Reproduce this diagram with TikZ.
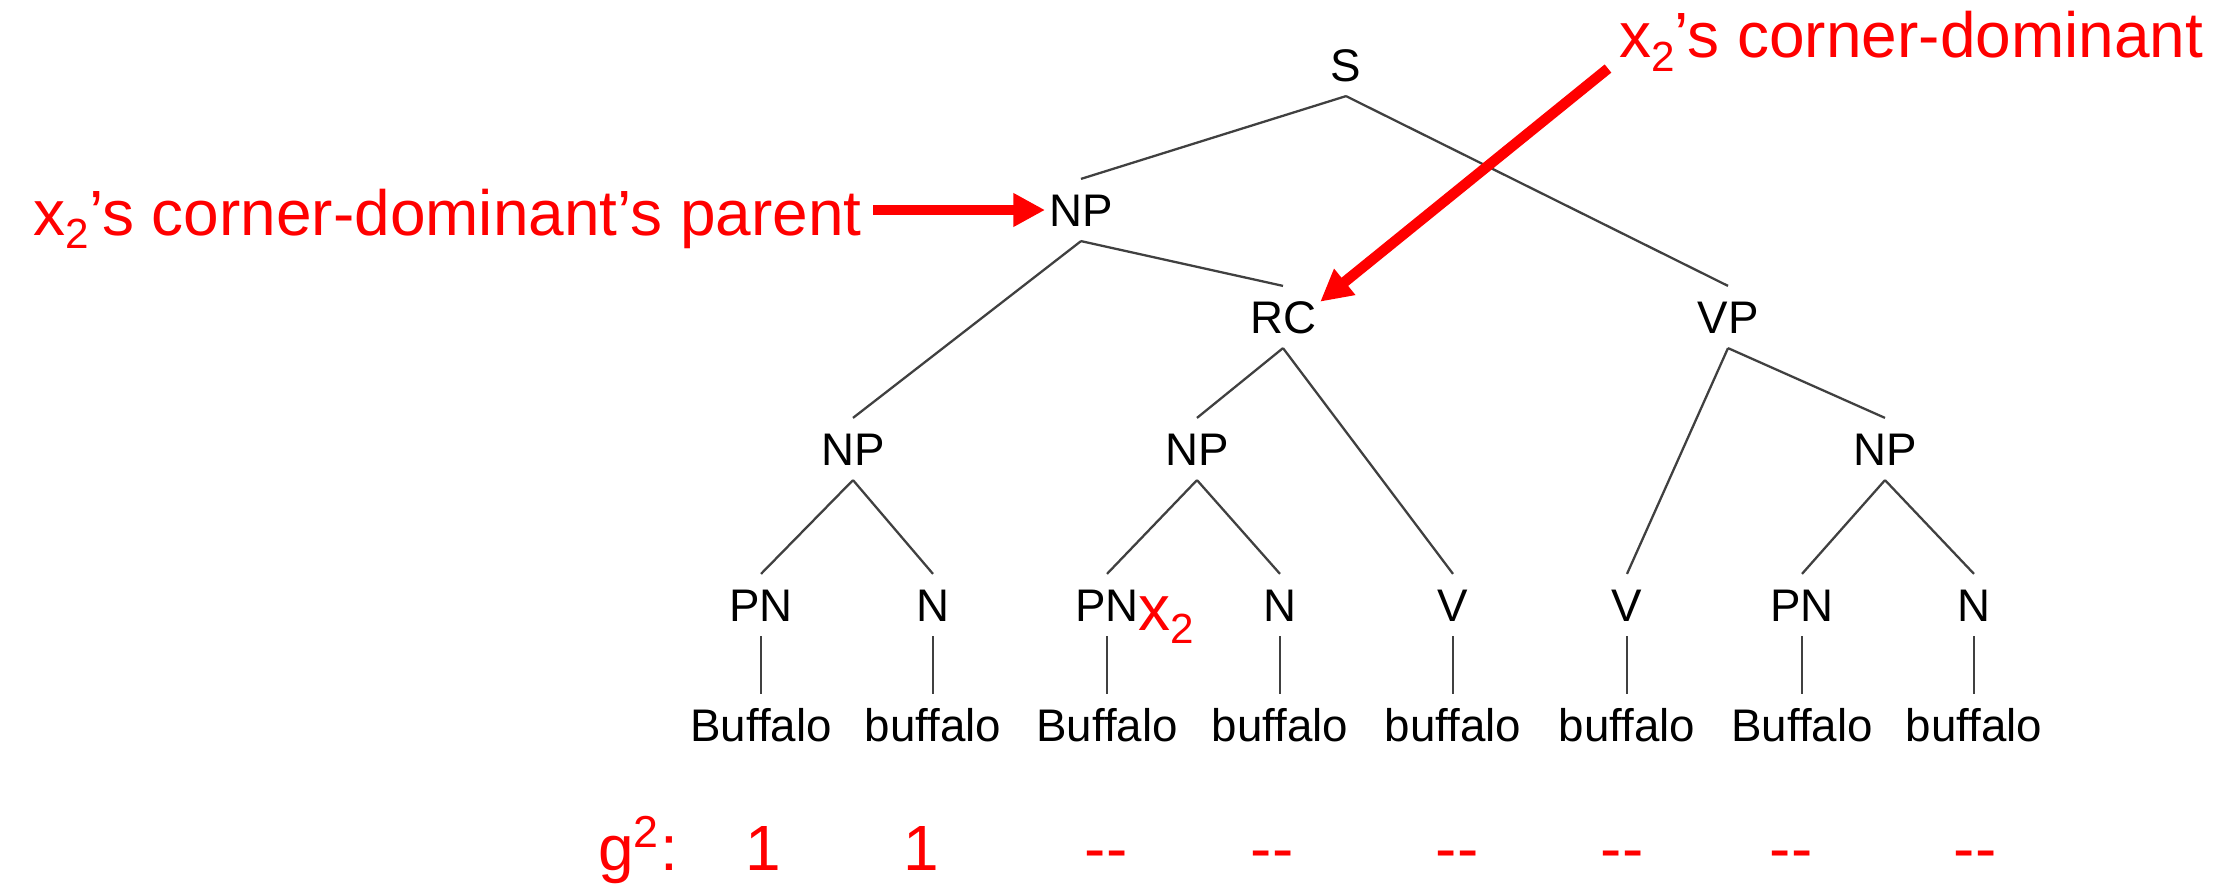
\documentclass[tikz,border=0pt]{standalone}
\usepackage{fontspec}
\setmainfont{Liberation Sans}
\usepackage{tikz}
\usetikzlibrary{arrows.meta,positioning,calc}

\newcommand{\treefont}{\fontsize{13}{15}\selectfont}
\newcommand{\notefont}{\fontsize{18.2}{22}\selectfont}
\newcommand{\lowtwo}{\raisebox{-3.7pt}{\fontsize{12}{12}\selectfont 2}}

\begin{document}
\begin{tikzpicture}[
  cat/.style={font=\treefont, text height=9.3pt, text depth=0pt,
    inner xsep=1pt, inner ysep=4pt},
  branch/.style={draw=black!75, line width=0.65pt},
  notelbl/.style={font=\notefont, text=red, inner sep=3pt},
  redarr/.style={-{Triangle[length=9pt,width=9pt]}, line width=3pt, red},
]
\useasboundingbox (0,0) rectangle (22.13,-8.86);

% Phrase nodes
\node[cat] (s) at (13.46,-0.65) {S};
\node[cat] (np) at (10.81,-2.10) {NP};
\node[cat] (rc) at (12.83,-3.17) {RC};
\node[cat] (vp) at (17.28,-3.17) {VP};
\node[cat] (npa) at (8.53,-4.49) {NP};
\node[cat] (npb) at (11.97,-4.49) {NP};
\node[cat] (npc) at (18.85,-4.49) {NP};

% Preterminals
\node[cat] (pna) at (7.61,-6.05) {PN};
\node[cat] (na) at (9.33,-6.05) {N};
\node[cat] (pnb) at (11.07,-6.05) {PN};
\node[cat] (nb) at (12.80,-6.05) {N};
\node[cat] (va) at (14.53,-6.05) {V};
\node[cat] (vb) at (16.27,-6.05) {V};
\node[cat] (pnc) at (18.02,-6.05) {PN};
\node[cat] (nc) at (19.74,-6.05) {N};

% Words
\node[cat] (wa) at (7.61,-7.25) {Buffalo};
\node[cat] (wb) at (9.33,-7.25) {buffalo};
\node[cat] (wc) at (11.07,-7.25) {Buffalo};
\node[cat] (wd) at (12.80,-7.25) {buffalo};
\node[cat] (we) at (14.53,-7.25) {buffalo};
\node[cat] (wf) at (16.27,-7.25) {buffalo};
\node[cat] (wg) at (18.02,-7.25) {Buffalo};
\node[cat] (wh) at (19.74,-7.25) {buffalo};

% Branches
\draw[branch] (s.south) -- (np.north);
\draw[branch] (s.south) -- (vp.north);
\draw[branch] (np.south) -- (npa.north);
\draw[branch] (np.south) -- (rc.north);
\draw[branch] (rc.south) -- (npb.north);
\draw[branch] (rc.south) -- (va.north);
\draw[branch] (vp.south) -- (vb.north);
\draw[branch] (vp.south) -- (npc.north);
\draw[branch] (npa.south) -- (pna.north);
\draw[branch] (npa.south) -- (na.north);
\draw[branch] (npb.south) -- (pnb.north);
\draw[branch] (npb.south) -- (nb.north);
\draw[branch] (npc.south) -- (pnc.north);
\draw[branch] (npc.south) -- (nc.north);
\draw[branch] (pna.south) -- (wa.north);
\draw[branch] (na.south) -- (wb.north);
\draw[branch] (pnb.south) -- (wc.north);
\draw[branch] (nb.south) -- (wd.north);
\draw[branch] (va.south) -- (we.north);
\draw[branch] (vb.south) -- (wf.north);
\draw[branch] (pnc.south) -- (wg.north);
\draw[branch] (nc.south) -- (wh.north);

% Annotations
\node[notelbl, anchor=base west] (parentlbl) at (0.225,-2.35) {x\lowtwo’s corner-dominant’s parent};
\node[notelbl, anchor=base west] (domlbl) at (16.08,-0.58) {x\lowtwo’s corner-dominant};
\node[notelbl, anchor=base west] (xtwo) at (11.27,-6.30) {x\lowtwo};

\draw[redarr] (parentlbl.east |- np) -- (np.west);
\draw[redarr] ([yshift=-3pt]domlbl.base west) -- ([yshift=-4.5pt]rc.north east);

% g^2 row
\node[notelbl, anchor=base] (glbl) at (6.38,-8.70) {g\textsuperscript{2}:};
\node[notelbl, anchor=base] (ga) at (7.63,-8.70) {1};
\node[notelbl, anchor=base] (gb) at (9.21,-8.70) {1};
\node[notelbl, anchor=base] (gc) at (11.06,-8.70) {-{}-};
\node[notelbl, anchor=base] (gd) at (12.72,-8.70) {-{}-};
\node[notelbl, anchor=base] (ge) at (14.57,-8.70) {-{}-};
\node[notelbl, anchor=base] (gf) at (16.22,-8.70) {-{}-};
\node[notelbl, anchor=base] (gg) at (17.91,-8.70) {-{}-};
\node[notelbl, anchor=base] (gh) at (19.75,-8.70) {-{}-};

\end{tikzpicture}
\end{document}
